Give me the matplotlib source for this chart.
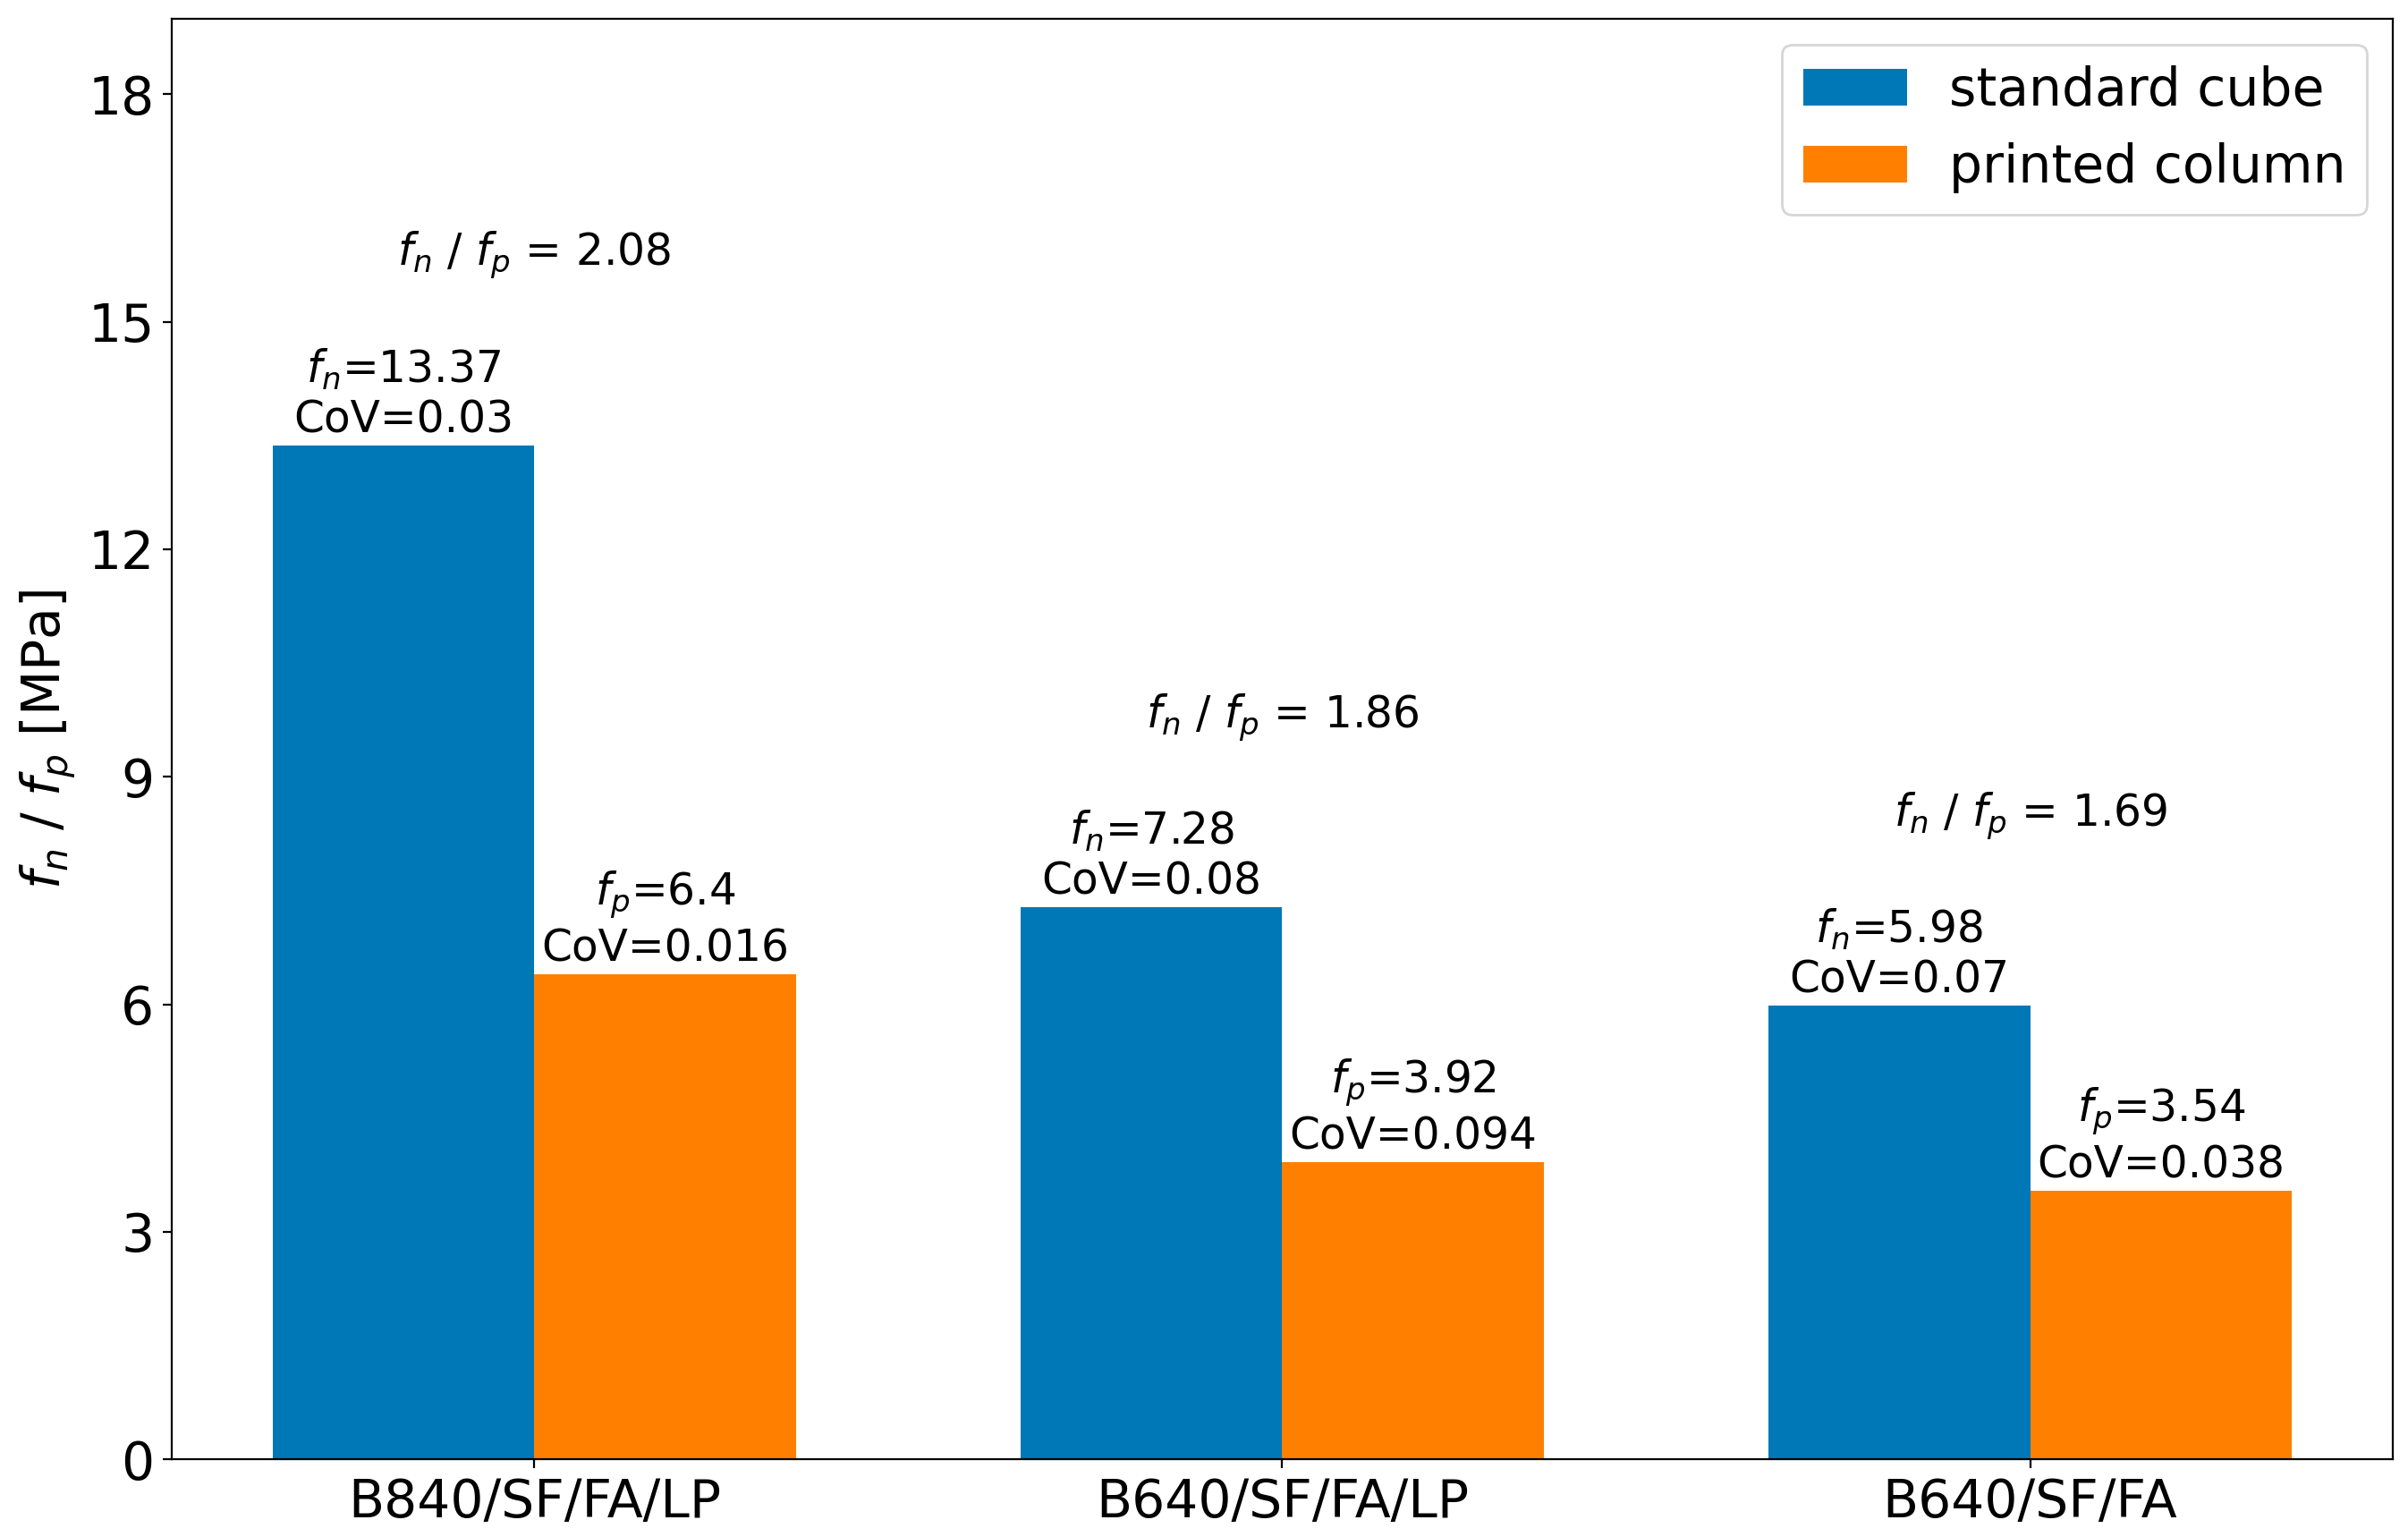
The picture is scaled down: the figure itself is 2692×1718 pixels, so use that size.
import numpy as np
import matplotlib
matplotlib.use('Agg')
import matplotlib.pyplot as plt

# compressive strength data
mixes = ['B840/SF/FA/LP', 'B640/SF/FA/LP', 'B640/SF/FA']
f_cube = [13.37, 7.28, 5.98]        # standard cube f_n [MPa]
cov_cube = ['0.03', '0.08', '0.07']
f_print = [6.4, 3.92, 3.54]         # printed column f_p [MPa]
cov_print = ['0.016', '0.094', '0.038']
ratios = ['2.08', '1.86', '1.69']

blue = '#0077b6'
orange = '#ff8000'

fig = plt.figure(figsize=(13.46, 8.59), dpi=200)
ax = fig.add_axes([0.0713, 0.0506, 0.9224, 0.9374])

x = np.arange(len(mixes))
width = 0.35

bars1 = ax.bar(x - width / 2, f_cube, width, color=blue, label='standard cube')
bars2 = ax.bar(x + width / 2, f_print, width, color=orange, label='printed column')

# value labels above bars
for i in range(len(mixes)):
    ax.text(x[i] - width / 2, f_cube[i] + 0.05,
            '$f_n$=' + f'{f_cube[i]}' + '\nCoV=' + cov_cube[i],
            ha='center', va='bottom', fontsize=17.5)
    ax.text(x[i] + width / 2, f_print[i] + 0.05,
            '$f_p$=' + f'{f_print[i]}' + '\nCoV=' + cov_print[i],
            ha='center', va='bottom', fontsize=17.5)
    # ratio text
    ax.text(x[i], max(f_cube[i], f_print[i]) + 2.5,
            '$f_n$ / $f_p$ = ' + ratios[i],
            ha='center', va='center', fontsize=17.5)

ax.set_xticks(x)
ax.set_xticklabels(mixes, fontsize=21)
ax.set_yticks(np.arange(0, 19, 3))
ax.tick_params(axis='y', labelsize=21)
ax.set_ylim(0, 19)
ax.set_ylabel('$f_n$ / $f_p$ [MPa]', fontsize=21)

ax.legend(loc='upper right', fontsize=21)

fig.savefig('out.png', dpi=200)
